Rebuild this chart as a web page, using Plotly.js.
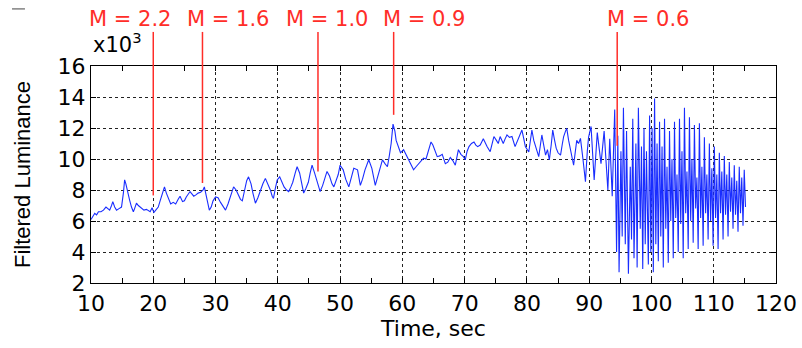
<!DOCTYPE html>
<html><head><meta charset="utf-8">
<script src="https://cdn.plot.ly/plotly-3.0.1.min.js"></script>
<style>html,body{margin:0;padding:0;background:#fff}#chart{width:802px;height:348px}</style>
</head><body><div id="chart"></div>
<script>
// Time (s) and filtered luminance (x10^3)
const timeSec = [
10.0,10.3,10.6,10.9,11.2,11.6,12.0,12.4,12.7,13.0,13.3,13.5,13.8,14.1,14.5,14.9,15.2,15.4,15.6,15.9,
16.2,16.5,16.8,17.0,17.3,17.6,17.9,18.2,18.5,18.9,19.2,19.5,19.8,20.1,20.4,20.8,21.1,21.4,21.8,22.1,
22.4,22.8,23.2,23.6,24.0,24.3,24.7,25.0,25.3,25.6,25.9,26.2,26.5,26.9,27.2,27.6,28.0,28.2,28.4,28.7,
29.0,29.3,29.6,30.0,30.4,30.8,31.2,31.6,32.0,32.4,32.9,33.3,33.7,34.0,34.3,34.7,35.0,35.3,35.7,36.0,
36.4,36.8,37.2,37.6,38.0,38.4,38.8,39.1,39.3,39.6,39.9,40.3,40.6,41.0,41.4,41.75,42.1,42.4,42.8,43.1,
43.5,43.8,44.15,44.5,44.9,45.2,45.5,45.9,46.3,46.8,47.2,47.6,47.9,48.3,48.7,49.0,49.4,49.7,50.0,50.5,
50.9,51.4,51.8,52.2,52.8,53.25,53.6,54.0,54.6,55.1,55.65,56.0,56.4,56.8,57.2,57.6,57.9,58.2,58.5,58.8,
59.0,59.3,59.7,60.2,60.6,61.0,61.4,61.8,62.2,62.6,63.0,63.4,63.8,64.2,64.6,64.9,65.3,65.6,66.0,66.4,
66.9,67.3,67.7,68.1,68.5,69.0,69.4,69.8,70.1,70.4,70.7,71.1,71.5,71.8,72.1,72.5,73.0,73.3,73.6,74.1,
74.4,74.7,75.1,75.4,75.7,76.2,76.5,76.8,77.2,77.6,78.1,78.4,78.7,79.2,79.5,79.75,80.3,80.6,80.8,81.1,
81.4,81.9,82.2,82.4,82.7,83.0,83.3,83.6,83.9,84.15,84.4,84.7,85.0,85.4,85.7,85.9,86.2,86.4,86.7,87.0,
87.3,87.5,87.8,88.0,88.3,88.6,89.0,89.4,89.7,89.9,90.3,90.8,91.3,91.9,92.4,93.0,93.3,93.7,
94.1,94.4,94.6,94.8,95.1,95.3,95.5,95.8,96.0,96.3,96.6,96.8,97.0,97.2,97.5,97.7,97.9,98.2,98.4,98.6,
98.8,99.0,99.2,99.5,99.7,99.9,
100.1,100.3,100.5,100.7,100.9,101.1,101.3,101.5,101.7,101.9,102.1,102.3,102.5,102.7,102.9,103.1,103.3,103.5,103.7,103.9,
104.1,104.3,104.5,104.7,104.9,105.1,105.3,105.5,105.7,105.9,106.1,106.3,106.5,106.7,106.9,107.1,107.3,107.5,107.7,107.9,
108.1,108.3,108.5,108.7,108.9,109.1,109.3,109.5,109.7,109.9,110.1,110.3,110.5,110.7,110.9,111.1,111.3,111.5,111.7,111.9,
112.1,112.3,112.5,112.7,112.9,113.1,113.3,113.5,113.7,113.9,114.1,114.3,114.5,114.7,114.9,115.1
];
const luminance = [
6.1,6.3,6.5,6.4,6.6,6.6,6.7,6.9,6.8,6.7,7.0,7.25,6.9,6.7,6.8,6.9,7.8,8.65,8.4,7.8,
7.35,6.9,6.6,6.8,7.15,7.0,6.9,6.8,6.7,6.75,6.65,6.6,6.85,6.55,6.7,6.9,7.3,7.7,8.2,7.8,
7.5,7.1,7.2,7.1,7.4,7.6,7.25,7.3,7.55,7.75,7.9,7.75,7.6,7.7,7.8,7.85,8.0,8.2,7.8,7.35,
6.7,6.9,7.3,7.55,7.5,7.2,6.9,6.7,7.1,7.6,8.2,8.0,7.7,7.4,7.3,8.0,8.6,8.85,8.4,7.8,
7.15,7.5,8.0,8.4,8.75,8.4,8.0,7.6,7.46,8.1,8.65,8.85,8.6,8.2,8.0,7.9,8.2,8.5,9.1,9.5,
9.1,8.5,7.8,8.1,8.5,9.1,9.6,9.1,8.5,7.9,8.3,8.9,9.2,8.9,8.4,8.2,8.6,9.0,9.6,9.3,
8.7,8.2,8.8,9.4,9.3,8.3,8.7,9.3,9.95,9.4,8.3,8.8,9.5,9.95,9.7,9.5,10.2,11.0,12.25,11.8,
11.2,10.8,10.4,10.6,10.3,10.0,9.6,9.3,9.5,9.7,9.9,10.05,10.0,10.6,11.1,10.9,10.4,10.15,10.2,10.3,
9.7,9.8,10.1,9.9,9.6,10.6,10.3,10.15,9.95,10.5,10.8,11.0,11.1,10.9,10.8,10.9,11.3,11.0,10.8,10.47,
11.0,11.45,11.2,11.0,11.45,11.0,11.3,11.55,11.4,11.45,10.8,11.1,11.45,11.87,11.3,10.8,10.45,11.3,11.87,11.2,
10.8,10.15,11.0,11.55,10.9,10.25,10.6,9.94,10.9,11.87,11.3,10.7,10.4,10.25,11.0,11.45,11.8,11.98,11.2,10.7,
10.0,9.6,10.5,11.2,11.0,11.33,10.0,8.54,10.5,11.4,12.1,8.65,11.7,9.7,11.8,8.0,11.3,7.6,
13.2,4.0,11.5,2.7,10.5,5.0,13.3,4.5,11.8,2.6,9.5,4.8,12.6,3.6,11.0,3.0,13.3,5.5,10.8,2.9,
12.0,4.5,10.5,3.2,12.8,4.0,
12.0,2.7,13.9,4.5,11.0,3.4,12.4,5.0,10.8,3.0,12.6,5.5,9.5,3.3,11.8,6.0,10.0,3.6,12.4,6.2,
9.0,4.0,12.6,5.8,10.5,3.6,13.3,6.5,9.2,4.2,12.7,6.0,10.0,4.6,12.2,6.8,8.8,4.2,12.3,6.2,
9.5,4.4,11.4,6.5,9.0,4.8,11.0,6.0,9.4,4.4,10.8,6.2,9.0,4.2,10.4,6.5,9.2,4.8,10.2,6.4,
9.0,5.0,9.8,6.6,8.8,5.5,9.6,6.4,8.6,5.3,9.5,6.5,8.8,5.7,9.3,6.9
];
// Marker lines: time, lower end (x10^3), label
const markerTimes = [20.0, 27.9, 46.45, 58.6, 94.5];
const markerBottoms = [7.65, 8.45, 9.2, 12.85, 10.85];
const markerLabels = ['M = 2.2', 'M = 1.6', 'M = 1.0', 'M = 0.9', 'M = 0.6'];
const labelShift = [-23, 26, 9, 30, 31];

const red = 'rgb(255,45,40)';
const shapes = [];
const annotations = [];
markerTimes.forEach((t, i) => {
  shapes.push({type:'line', xref:'x', yref:'y', x0:t, x1:t, y0:markerBottoms[i], y1:16,
    line:{color:red, width:1.5}, layer:'above'});
  shapes.push({type:'line', xref:'x', yref:'paper', x0:t, x1:t, y0:1, y1:1.157,
    line:{color:red, width:1.5}, layer:'above'});
  annotations.push({xref:'x', yref:'paper', x:t, y:1.217, xshift:labelShift[i],
    xanchor:'center', yanchor:'middle', showarrow:false, text:markerLabels[i],
    font:{family:'DejaVu Sans', size:21, color:red}});
});
annotations.push({xref:'paper', yref:'paper', x:0.0, y:1.03, xanchor:'left', yanchor:'bottom',
  showarrow:false, text:'x10<sup>3</sup>', font:{family:'DejaVu Sans', size:21, color:'#000'}});
shapes.push({type:'line', xref:'paper', yref:'paper', x0:-0.1153, x1:-0.0964, y0:1.263, y1:1.263,
  line:{color:'#444', width:1}});

const axisCommon = {
  showline:true, linecolor:'#000', linewidth:1.2, mirror:'ticks',
  ticks:'inside', ticklen:5, tickcolor:'#000', zeroline:false,
  showgrid:true, gridcolor:'#222', griddash:'dot', gridwidth:1,
  tickfont:{family:'DejaVu Sans', size:22, color:'#000'}
};

const layout = {
  width:802, height:348,
  margin:{l:91, r:26, t:66, b:65},
  paper_bgcolor:'#fff', plot_bgcolor:'#fff',
  showlegend:false,
  xaxis: Object.assign({}, axisCommon, {
    range:[10,120], dtick:10, tick0:10,
    minor:{dtick:5, ticks:'inside', ticklen:5, tickcolor:'#000', showgrid:false},
    title:{text:'Time, sec', font:{family:'DejaVu Sans', size:22, color:'#000'}, standoff:4}
  }),
  yaxis: Object.assign({}, axisCommon, {
    range:[2,16], dtick:2, tick0:2,
    title:{text:'Filtered Luminance', font:{family:'Liberation Sans', size:22, color:'#000'}, standoff:20}
  }),
  shapes: shapes,
  annotations: annotations
};

const trace = {
  type:'scatter', mode:'lines', x:timeSec, y:luminance,
  line:{color:'rgb(25,45,255)', width:1.1}, hoverinfo:'skip'
};

Plotly.newPlot('chart', [trace], layout, {staticPlot:true, displayModeBar:false});
</script></body></html>
